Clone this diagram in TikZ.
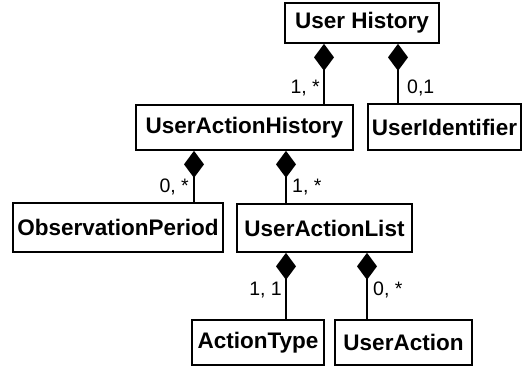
\documentclass[tikz,border=0pt]{standalone}
\usepackage{fontspec}
\setsansfont{Liberation Sans}
\usetikzlibrary{arrows.meta}

\begin{document}
\begin{tikzpicture}[x = 1pt, y = -1pt, font=\sffamily]
	\tikzstyle{classStyle} = [shape = rectangle, draw, line width = 1.7pt, inner sep = 0pt, font = \sffamily\bfseries\fontsize{22.5}{26}\selectfont]
	\tikzstyle{compStyle} = [line width = 1.7pt, -{Diamond[length = 27pt, width = 20pt]}]
	\tikzstyle{multStyle} = [inner sep = 0pt, font = \sffamily\fontsize{19.5}{22}\selectfont]
	\useasboundingbox (0, 0) rectangle (523, 367);
	\node[classStyle, minimum width = 154pt, minimum height = 40pt] (userHistory) at (362, 23) {User History};
	\node[classStyle, minimum width = 217pt, minimum height = 45pt] (userActionHistory) at (244.5, 127.5) {UserActionHistory};
	\node[classStyle, minimum width = 153pt, minimum height = 46pt] (userIdentifier) at (444.5, 127) {UserIdentifier};
	\node[classStyle, minimum width = 210pt, minimum height = 49pt] (observationPeriod) at (118, 227.5) {ObservationPeriod};
	\node[classStyle, minimum width = 175pt, minimum height = 48pt] (userActionList) at (324.5, 228) {UserActionList};
	\node[classStyle, minimum width = 132pt, minimum height = 45pt] (actionType) at (258, 342.5) {ActionType};
	\node[classStyle, minimum width = 137pt, minimum height = 45pt] (userAction) at (403.5, 342.5) {UserAction};
	\coordinate (xa) at (324, 0);
	\coordinate (xb) at (398, 0);
	\coordinate (xc) at (194, 0);
	\coordinate (xd) at (286, 0);
	\coordinate (xe) at (367, 0);
	\draw[compStyle] (userActionHistory.north -| xa) -- (userHistory.south -| xa);
	\draw[compStyle] (userIdentifier.north -| xb) -- (userHistory.south -| xb);
	\draw[compStyle] (observationPeriod.north -| xc) -- (userActionHistory.south -| xc);
	\draw[compStyle] (userActionList.north -| xd) -- (userActionHistory.south -| xd);
	\draw[compStyle] (actionType.north -| xd) -- (userActionList.south -| xd);
	\draw[compStyle] (userAction.north -| xe) -- (userActionList.south -| xe);
	\node[multStyle, anchor = east] (m1) at (320, 88) {1, *};
	\node[multStyle, anchor = west] (m2) at (407, 88) {0,1};
	\node[multStyle, anchor = east] (m3) at (189, 187) {0, *};
	\node[multStyle, anchor = west] (m4) at (292, 187) {1, *};
	\node[multStyle, anchor = east] (m5) at (282, 290) {1, 1};
	\node[multStyle, anchor = west] (m6) at (373, 290) {0, *};
\end{tikzpicture}
\end{document}
